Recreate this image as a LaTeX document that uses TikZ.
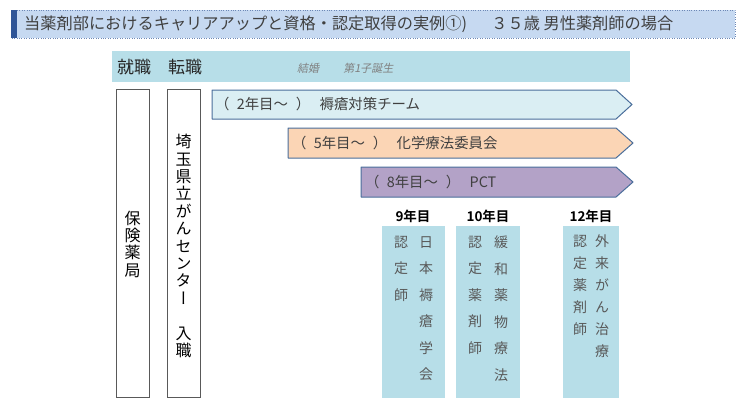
\documentclass[tikz,border=0pt]{standalone}
\usepackage{fontspec}
\setmainfont{Noto Sans CJK JP}[BoldFont={Noto Sans CJK JP Bold}]
\newfontfamily\jpv[RawFeature={+vert}]{Noto Sans CJK JP}
\newfontfamily\jpsl[FakeSlant=0.2]{Noto Sans CJK JP}
\usepackage{tikz}

\definecolor{titlefill}{HTML}{C6D9F1}
\definecolor{titlebar}{HTML}{2F5597}
\definecolor{bandfill}{HTML}{B7DEE8}
\definecolor{arrowline}{HTML}{4A6E9B}
\definecolor{teamfill}{HTML}{DAEEF3}
\definecolor{chemofill}{HTML}{FBD5B5}
\definecolor{pctfill}{HTML}{B3A2C7}
\definecolor{txtgray}{HTML}{404040}
\definecolor{colgray}{HTML}{595959}

\newcommand{\since}[1]{（\hspace{0.5em}#1年目～\hspace{0.55em}）\hspace{0.65em}}

\tikzset{
    jobbox/.style={draw=gray!70!black, fill=white, line width=0.9pt},
    teamarrow/.style={draw=arrowline, line width=1pt, line join=round},
    yearlabel/.style={font=\bfseries\fontsize{13.5}{15}\selectfont, inner sep=0pt},
    coltext/.style={text=colgray, align=center, inner sep=0pt, anchor=north,
        font=\fontsize{14}{26.5}\selectfont},
    armtext/.style={text=txtgray, anchor=west, inner sep=0pt,
        font=\fontsize{14.4}{16}\selectfont}
}

\begin{document}
\begin{tikzpicture}[x=1pt, y=-1pt]

\useasboundingbox (0,0) rectangle (738,407);

% Title
\fill[titlefill] (11,10) rectangle (735,38);
\draw[titlebar!70, dotted] (11,10) rectangle (735,38);
\fill[titlebar] (11,10) rectangle (17,38);
\node[anchor=west, inner sep=0pt, text=txtgray, font=\fontsize{16.2}{18}\selectfont]
    (title) at (24,24) {当薬剤部におけるキャリアアップと資格・認定取得の実例①)\hspace{1.5em}３５歳 男性薬剤師の場合};

% Time band
\fill[bandfill] (112,51) rectangle (630,82);
\node[anchor=west, inner sep=0pt, text=black!85, font=\fontsize{17}{19}\selectfont]
    (jobs) at (117,67) {就職　転職};
\node[anchor=west, inner sep=0pt, text=gray, font=\jpsl\fontsize{11}{12}\selectfont]
    (events) at (297,68) {結婚\hspace{2.2em}第1子誕生};

% Workplaces
\draw[jobbox] (116,89) rectangle (149,397);
\node[align=center, inner sep=0pt, font=\fontsize{16}{17.3}\selectfont]
    (pharmacy) at (132.5,244) {保\\険\\薬\\局};
\draw[jobbox] (167,89) rectangle (200,397);
\node[align=center, inner sep=0pt, font=\jpv\fontsize{16}{17.4}\selectfont]
    (center) at (183.5,246) {埼\\玉\\県\\立\\が\\ん\\セ\\ン\\タ\\ー\\\mbox{}\\入\\職};

% Team arrows
\draw[teamarrow, fill=teamfill] (212,90) -- (616,90) -- (632,104.5) -- (616,119) -- (212,119) -- cycle;
\node[armtext] (team) at (215,104.5) {\since{2}褥瘡対策チーム};
\draw[teamarrow, fill=chemofill] (288,128) -- (616,128) -- (633,143) -- (616,158) -- (288,158) -- cycle;
\node[armtext] (chemo) at (292,143) {\since{5}化学療法委員会};
\draw[teamarrow, fill=pctfill] (361,167) -- (616,167) -- (633,182) -- (616,197) -- (361,197) -- cycle;
\node[armtext] (pct) at (365,182) {\since{8}PCT};

% Certificates
\fill[bandfill] (382,226) rectangle (445,398);
\node[yearlabel] (y9) at (413,216) {9年目};
\node[coltext] (c9a) at (401,236) {認\\定\\師};
\node[coltext] (c9b) at (426,236) {日\\本\\褥\\瘡\\学\\会};

\fill[bandfill] (456,226) rectangle (520,398);
\node[yearlabel] (y10) at (488,216) {10年目};
\node[coltext] (c10a) at (475,236) {認\\定\\薬\\剤\\師};
\node[coltext] (c10b) at (501,236) {緩\\和\\薬\\物\\療\\法};

\fill[bandfill] (563,226) rectangle (619,398);
\node[yearlabel] (y12) at (591,216) {12年目};
\node[coltext, font=\fontsize{14}{22}\selectfont] (c12a) at (580,235) {認\\定\\薬\\剤\\師};
\node[coltext, font=\jpv\fontsize{14}{22}\selectfont] (c12b) at (602,235) {外\\来\\が\\ん\\治\\療};

\end{tikzpicture}
\end{document}
